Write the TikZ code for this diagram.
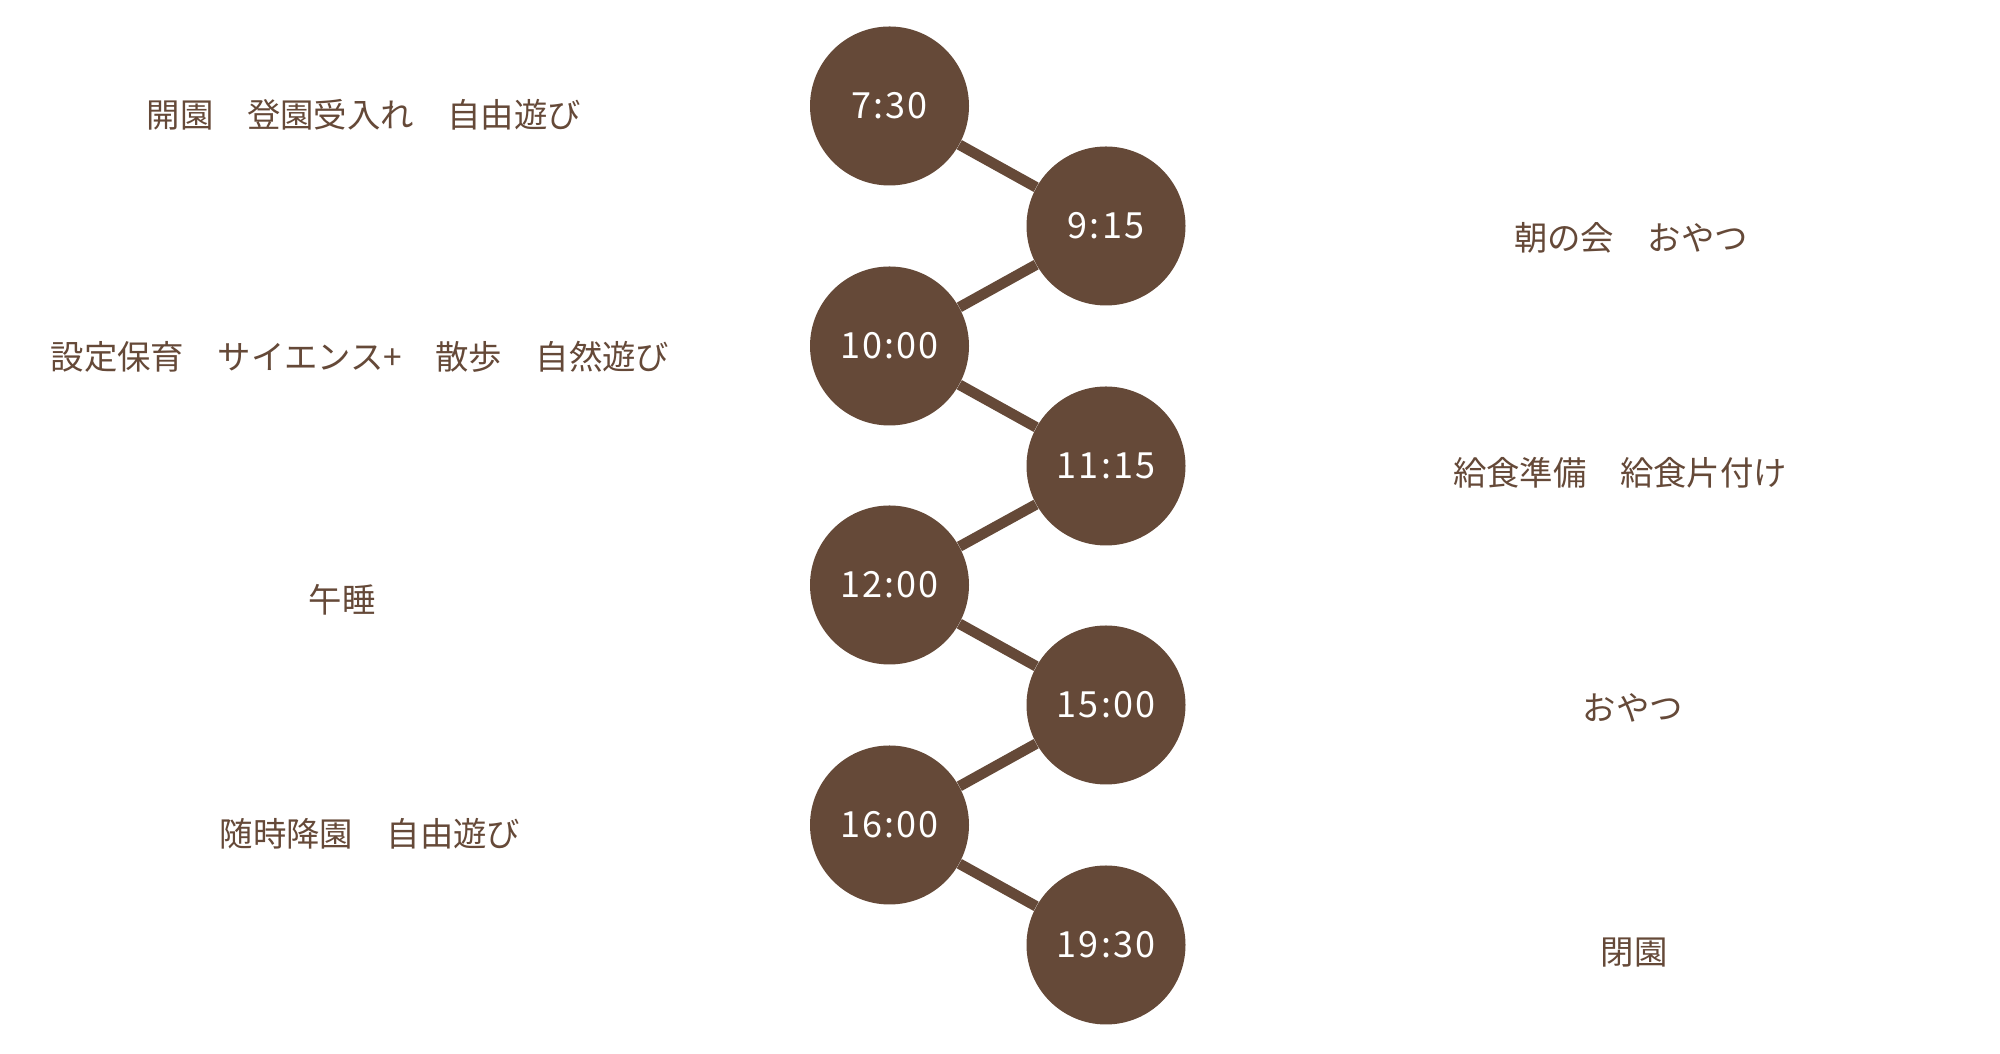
\documentclass[tikz,border=0pt]{standalone}
\usepackage{fontspec}
\setmainfont{Noto Sans CJK JP}
\newfontfamily\timefont[LetterSpace=6]{Noto Sans CJK JP}
\usetikzlibrary{positioning}
\definecolor{cocoa}{RGB}{101,73,56}

\begin{document}
\begin{tikzpicture}
\fill[white] (0,0) rectangle (40,21.08);
\useasboundingbox (0,0) rectangle (40,21.08);
% time circles, zigzag
\foreach \t/\x/\y [count=\i] in {7:30/17.79/18.96,9:15/22.12/16.56,10:00/17.79/14.16,
  11:15/22.12/11.76,12:00/17.79/9.38,15:00/22.12/6.98,16:00/17.79/4.58,19:30/22.12/2.18} {
  \node[circle,fill=cocoa,minimum size=3.18cm,inner sep=0pt,text=white,
        font=\timefont\fontsize{20.5}{24}\selectfont] (T\i) at (\x,\y) {\t};
}
\foreach \i in {1,...,7} {
  \pgfmathtruncatemacro{\next}{\i+1}
  \draw[cocoa,line width=6pt] (T\i) -- (T\next);
}
% activities, left side
\foreach \txt/\x/\y [count=\i] in {開園　登園受入れ　自由遊び/7.28/18.78,
  設定保育　サイエンス+　散歩　自然遊び/7.2/13.94,午睡/6.84/9.08,随時降園　自由遊び/7.4/4.40} {
  \node[text=cocoa,font=\fontsize{19}{23}\selectfont] (L\i) at (\x,\y) {\txt};
}
% activities, right side
\foreach \txt/\x/\y [count=\i] in {朝の会　おやつ/32.62/16.32,給食準備　給食片付け/32.4/11.62,
  おやつ/32.66/6.92,閉園/32.68/2.02} {
  \node[text=cocoa,font=\fontsize{19}{23}\selectfont] (R\i) at (\x,\y) {\txt};
}
\end{tikzpicture}
\end{document}
